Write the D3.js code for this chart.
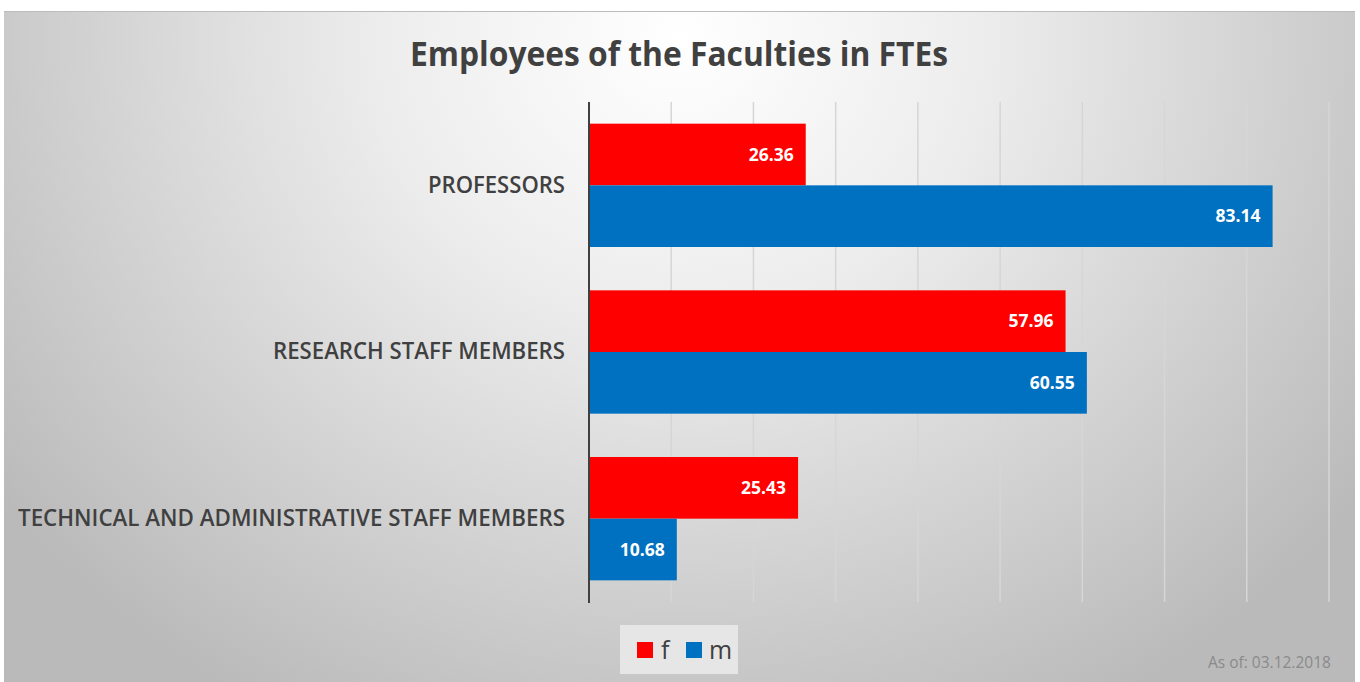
<!DOCTYPE html>
<html><head><meta charset="utf-8">
<script src="https://cdn.jsdelivr.net/npm/d3@7"></script>
<style>html,body{margin:0;padding:0;background:#fff;}svg{display:block;}</style>
</head><body>
<svg id="c" width="1360" height="682"></svg>
<script>
const categories = ["PROFESSORS", "RESEARCH STAFF MEMBERS", "TECHNICAL AND ADMINISTRATIVE STAFF MEMBERS"];
const seriesNames = ["f", "m"];
const fValues = [26.36, 57.96, 25.43];
const mValues = [83.14, 60.55, 10.68];
const xTicks = [0, 10, 20, 30, 40, 50, 60, 70, 80, 90];
const colors = {f: "#ff0000", m: "#0070c0"};
const titleText = "Employees of the Faculties in FTEs";
const noteText = "As of: 03.12.2018";

const svg = d3.select("#c");
const font = "'Open Sans', 'DejaVu Sans', sans-serif";

const defs = svg.append("defs");
const grad = defs.append("radialGradient").attr("id", "bg")
  .attr("gradientUnits", "userSpaceOnUse")
  .attr("cx", 680).attr("cy", 40).attr("r", 850)
  .attr("gradientTransform", "translate(680,40) scale(1,0.9) translate(-680,-40)");
grad.append("stop").attr("offset", "0").attr("stop-color", "#ffffff");
grad.append("stop").attr("offset", "0.35").attr("stop-color", "#ededed");
grad.append("stop").attr("offset", "1").attr("stop-color", "#bababa");

svg.append("rect").attr("x", 4).attr("y", 11).attr("width", 1351).attr("height", 671).attr("fill", "url(#bg)");
svg.append("line").attr("x1", 4).attr("x2", 1355).attr("y1", 11.5).attr("y2", 11.5).attr("stroke", "#bcbcbc").attr("stroke-width", 1);

const rows = categories.map((c, i) => ({cat: c, f: fValues[i], m: mValues[i]}));

const x = d3.scaleLinear().domain([0, 90]).range([589, 1329]);
const y = d3.scaleBand().domain(categories).range([102, 602]).paddingInner(0.26).paddingOuter(0.13);
const ySub = d3.scaleBand().domain(seriesNames).range([0, y.bandwidth()]);

// gridlines
svg.append("g").selectAll("line").data(xTicks.slice(1)).join("line")
  .attr("x1", d => x(d)).attr("x2", d => x(d))
  .attr("y1", 102).attr("y2", 602)
  .attr("stroke", "#d6d6d6").attr("stroke-width", 1.5);

// bars
const groups = svg.append("g").selectAll("g").data(rows).join("g")
  .attr("transform", d => `translate(0,${y(d.cat)})`);
seriesNames.forEach(s => {
  groups.append("rect")
    .attr("x", x(0)).attr("y", ySub(s))
    .attr("width", d => x(d[s]) - x(0)).attr("height", ySub.bandwidth())
    .attr("fill", colors[s]);
  groups.append("text")
    .attr("x", d => x(d[s]) - 12).attr("y", ySub(s) + ySub.bandwidth() / 2)
    .attr("dy", "0.36em").attr("text-anchor", "end")
    .attr("fill", "#ffffff").attr("font-family", font).attr("font-weight", 700)
    .attr("font-size", 17.5)
    .text(d => d[s].toFixed(2));
});

// axis line
svg.append("line").attr("x1", 589).attr("x2", 589).attr("y1", 102).attr("y2", 603)
  .attr("stroke", "#404040").attr("stroke-width", 2);

// category labels via axis
const labelWidths = {"PROFESSORS": 137, "RESEARCH STAFF MEMBERS": 292, "TECHNICAL AND ADMINISTRATIVE STAFF MEMBERS": 547};
const yAxis = svg.append("g").attr("transform", "translate(589,0)")
  .call(d3.axisLeft(y).tickSize(0).tickPadding(24));
yAxis.select(".domain").remove();
yAxis.selectAll("text")
  .attr("font-family", font).attr("font-size", 22.5).attr("font-weight", 600)
  .attr("fill", "#404040")
  .attr("textLength", d => labelWidths[d]).attr("lengthAdjust", "spacingAndGlyphs");

// title
svg.append("text").attr("x", 679).attr("y", 66).attr("text-anchor", "middle")
  .attr("font-family", font).attr("font-weight", 700).attr("font-size", 34)
  .attr("fill", "#404040")
  .attr("textLength", 538).attr("lengthAdjust", "spacingAndGlyphs")
  .text(titleText);

// legend
const lg = svg.append("g");
lg.append("rect").attr("x", 620).attr("y", 625).attr("width", 118).attr("height", 49).attr("fill", "#e6e6e6");
const legendItems = [{s: "f", sx: 637, tx: 661}, {s: "m", sx: 686, tx: 709}];
lg.selectAll("rect.sw").data(legendItems).join("rect").attr("class", "sw")
  .attr("x", d => d.sx).attr("y", 642).attr("width", 16).attr("height", 16)
  .attr("fill", d => colors[d.s]);
lg.selectAll("text").data(legendItems).join("text")
  .attr("x", d => d.tx).attr("y", 659)
  .attr("font-family", font).attr("font-size", 25).attr("fill", "#404040")
  .text(d => d.s);

// note
svg.append("text").attr("x", 1208).attr("y", 668).attr("text-anchor", "start")
  .attr("font-family", font).attr("font-size", 15.5).attr("fill", "#8a8a8a")
  .text(noteText);
</script>
</body></html>
